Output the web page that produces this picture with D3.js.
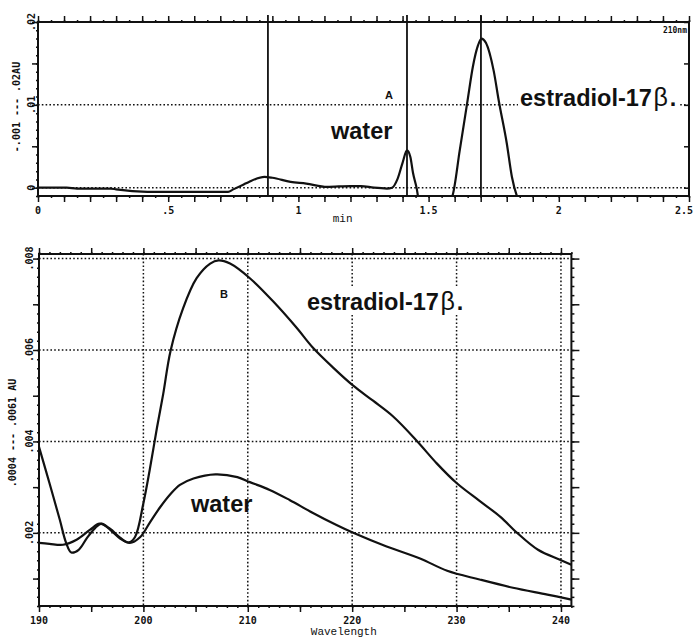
<!DOCTYPE html>
<html>
<head>
<meta charset="utf-8">
<script src="https://cdn.jsdelivr.net/npm/d3@7"></script>
<style>
  body { margin: 0; background: #fff; }
  svg { display: block; }
  .tick-label { font-family: 'DejaVu Sans Mono', monospace; font-weight: bold; font-size: 10px; fill: #111; }
  .axis-title { font-family: 'Liberation Mono', 'Courier New', monospace; font-size: 11px; fill: #111; }
  .big-label { font-family: 'Liberation Sans', Arial, sans-serif; font-weight: bold; font-size: 23.5px; fill: #111; }
  .small-label { font-family: 'Liberation Sans', Arial, sans-serif; font-weight: bold; font-size: 11px; fill: #111; }
</style>
</head>
<body>
<div class="canvas"></div>
<script>
// ---- panel A : chromatogram at 210 nm ----
const chromTime = [0, 0.11, 0.15, 0.28, 0.30, 0.42, 0.73, 0.75, 0.79, 0.81, 0.87, 0.90, 0.97, 1.03,
    1.11, 1.20, 1.24, 1.29, 1.34, 1.36, 1.38, 1.40, 1.417, 1.43, 1.44, 1.455, 1.46, 1.49, 1.56,
    1.59, 1.62, 1.65, 1.67, 1.69, 1.703, 1.72, 1.75, 1.77, 1.80, 1.82, 1.84, 1.87, 2.5];
const chromAbs = [0, 0, -0.0001, -0.0001, -0.0002, -0.0005, -0.0005, -0.0002, 0.0004, 0.0007,
    0.0013, 0.0012, 0.0007, 0.0005, 0.0001, 0.0002, 0.0002, 0, -0.0001, 0, 0.001, 0.003, 0.0045,
    0.0037, 0.0018, -0.0002, -0.0011, -0.002, -0.002, -0.0011, 0.0046, 0.0106, 0.0146, 0.0172,
    0.0180, 0.0175, 0.0141, 0.0104, 0.0054, 0.0013, -0.0011, -0.0027, -0.003];
const peakMarks = [0.883, 1.417, 1.701];
const timeTicks = [0, 0.5, 1, 1.5, 2, 2.5];
const timeTickLabels = ['0', '.5', '1', '1.5', '2', '2.5'];
const absTicks = [0, 0.01, 0.02];
const absTickLabels = ['0', '.01', '.02'];

// ---- panel B : UV spectra ----
const waveA = [190, 191, 192, 192.6, 193.1, 193.8, 194.6, 195.4, 196, 196.8, 197.8, 198.6, 199.2,
    200, 200.6, 201.3, 201.9, 202.6, 203.8, 205.1, 206.4, 207.2, 208.3, 210.2, 212.4, 214.7, 216.2,
    218.2, 220.1, 222, 223.9, 226.2, 228.1, 230, 232.2, 234.2, 235.8, 237.8, 239.9, 241];
const estradiolAbs = [0.00388, 0.00309, 0.00228, 0.00178, 0.00157, 0.00163, 0.00189, 0.00211,
    0.0022, 0.00207, 0.00187, 0.00179, 0.00191, 0.00265, 0.00337, 0.0043, 0.00504, 0.00598,
    0.00691, 0.00757, 0.00789, 0.00796, 0.00789, 0.00757, 0.00707, 0.00648, 0.00606, 0.00561,
    0.00522, 0.00489, 0.00455, 0.00401, 0.00352, 0.00309, 0.00270, 0.00235, 0.002, 0.00163,
    0.00141, 0.0013];
const waveW = [190, 191, 192.3, 193.6, 194.9, 195.8, 196.8, 197.8, 198.7, 199.7, 200.6, 201.6,
    202.6, 203.5, 204.8, 206.9, 209, 210.2, 212.1, 214, 216.2, 218.5, 220.1, 223.3, 226.5, 229.1,
    232.2, 235.4, 238.7, 241];
const waterAbs = [0.00178, 0.00176, 0.00174, 0.00185, 0.00207, 0.0022, 0.00209, 0.00189, 0.00178,
    0.00191, 0.00222, 0.00256, 0.00285, 0.00305, 0.00319, 0.00328, 0.00322, 0.00311, 0.00294,
    0.00272, 0.00244, 0.00217, 0.002, 0.0017, 0.00144, 0.00117, 0.00098, 0.0008, 0.00065, 0.00054];
const waveTicks = [190, 200, 210, 220, 230, 240];
const waveTickLabels = ['190', '200', '210', '220', '230', '240'];
const specTicks = [0.002, 0.004, 0.006, 0.008];
const specTickLabels = ['.002', '.004', '.006', '.008'];

const svg = d3.select('.canvas')
    .append('svg')
    .attr('width', 694)
    .attr('height', 637);

svg.append('rect').attr('width', 694).attr('height', 637).attr('fill', '#fff');

const ink = '#111';
const dotted = '1.6,2.2';

// draws tick marks with d3.axis, no labels
const tickMarks = (g, axis, values, size, width) => {
    g.call(axis.tickValues(values).tickSize(size).tickFormat(''));
    g.select('.domain').remove();
    g.selectAll('.tick line').attr('stroke', ink).attr('stroke-width', width);
};

const frame = (x0, x1, y0, y1) => {
    svg.append('rect')
        .attr('x', x0).attr('y', y0)
        .attr('width', x1 - x0).attr('height', y1 - y0)
        .attr('fill', 'none')
        .attr('stroke', ink)
        .attr('stroke-width', 2);
};

// ================= panel A =================
const xA = d3.scaleLinear().domain([0, 2.5]).range([38, 689]);
const yA = d3.scaleLinear().domain([-0.001, 0.02]).range([196, 22]);

// dotted grid
svg.append('g').selectAll('line')
    .data([0, 0.01])
    .enter().append('line')
    .attr('x1', xA(0)).attr('x2', xA(2.5))
    .attr('y1', d => yA(d)).attr('y2', d => yA(d))
    .attr('stroke', ink).attr('stroke-width', 1.5)
    .attr('stroke-dasharray', dotted);

// ticks
const minorT = d3.range(0, 2.501, 0.05);
const majorT = d3.range(0, 2.501, 0.1);
tickMarks(svg.append('g').attr('transform', `translate(0,${yA.range()[1]})`), d3.axisTop(xA), minorT, 2, 1.5);
tickMarks(svg.append('g').attr('transform', `translate(0,${yA.range()[1]})`), d3.axisTop(xA), majorT, 6, 1.5);
tickMarks(svg.append('g').attr('transform', `translate(0,${yA.range()[0]})`), d3.axisBottom(xA), minorT, 2, 1.5);
tickMarks(svg.append('g').attr('transform', `translate(0,${yA.range()[0]})`), d3.axisBottom(xA), majorT, 6, 1.5);
const minorA = d3.range(-0.001, 0.02001, 0.001);
const majorA = d3.range(0, 0.02001, 0.005);
tickMarks(svg.append('g').attr('transform', `translate(${xA(0)},0)`), d3.axisLeft(yA), minorA, 2, 1.5);
tickMarks(svg.append('g').attr('transform', `translate(${xA(0)},0)`), d3.axisLeft(yA), majorA, 6, 1.5);
tickMarks(svg.append('g').attr('transform', `translate(${xA(2.5)},0)`), d3.axisLeft(yA), majorA, 5, 1.5);

frame(xA(0), xA(2.5), yA(0.02), yA(-0.001));

// retention markers
svg.append('g').selectAll('line')
    .data(peakMarks)
    .enter().append('line')
    .attr('x1', d => xA(d)).attr('x2', d => xA(d))
    .attr('y1', yA(0.02) - 7).attr('y2', yA(-0.001))
    .attr('stroke', ink).attr('stroke-width', 1.8);

svg.append('clipPath').attr('id', 'clipA')
    .append('rect')
    .attr('x', xA(0)).attr('y', yA(0.02))
    .attr('width', xA(2.5) - xA(0)).attr('height', yA(-0.001) - yA(0.02));

const chromData = chromTime.map((t, i) => ({ t, v: chromAbs[i] }));
svg.append('path')
    .datum(chromData)
    .attr('clip-path', 'url(#clipA)')
    .attr('fill', 'none')
    .attr('stroke', ink)
    .attr('stroke-width', 2.2)
    .attr('d', d3.line().x(d => xA(d.t)).y(d => yA(d.v)).curve(d3.curveMonotoneX));

// tick labels
svg.append('g').selectAll('text')
    .data(timeTicks)
    .enter().append('text')
    .attr('class', 'tick-label')
    .attr('x', d => xA(d)).attr('y', 214)
    .attr('text-anchor', (d, i) => i === timeTicks.length - 1 ? 'end' : 'middle')
    .attr('dx', (d, i) => i === timeTicks.length - 1 ? 4 : 0)
    .text((d, i) => timeTickLabels[i]);

svg.append('g').selectAll('text')
    .data(absTicks)
    .enter().append('text')
    .attr('class', 'tick-label')
    .attr('transform', d => `translate(31,${yA(d)}) rotate(-90)`)
    .attr('text-anchor', 'middle')
    .attr('dy', '0.35em')
    .text((d, i) => absTickLabels[i]);

svg.append('text').attr('class', 'axis-title')
    .attr('x', xA(1.17)).attr('y', 222)
    .attr('text-anchor', 'middle').text('min');

svg.append('text').attr('class', 'tick-label')
    .attr('transform', `translate(16,107) rotate(-90)`)
    .attr('text-anchor', 'middle').attr('dy', '0.35em')
    .text('-.001 --- .02AU');

svg.append('text').attr('class', 'tick-label')
    .attr('x', 687).attr('y', 33)
    .attr('text-anchor', 'end').style('font-size', '8px')
    .text('210nm');

svg.append('text').attr('class', 'small-label')
    .attr('x', 389).attr('y', 99).attr('text-anchor', 'middle').text('A');

svg.append('text').attr('class', 'big-label')
    .attr('x', 331).attr('y', 139).text('water');

// label with white backing, covering the dotted grid
const bigLabel = (x, y) => {
    const g = svg.append('g');
    const t = g.append('text').attr('class', 'big-label').attr('x', x).attr('y', y);
    t.append('tspan').text('estradiol-17');
    t.append('tspan').attr('dx', 1.5).style('font-weight', 'normal').style('font-size', '25px').text('\u03b2');
    t.append('tspan').attr('dx', 2).text('.');
    const b = t.node().getBBox();
    g.insert('rect', 'text')
        .attr('x', b.x - 2).attr('y', b.y)
        .attr('width', b.width + 4).attr('height', b.height)
        .attr('fill', '#fff');
};
bigLabel(520, 106);

// ================= panel B =================
const xB = d3.scaleLinear().domain([190, 241]).range([39, 571.4]);
const yB = d3.scaleLinear().domain([0.0004, 0.0081]).range([606, 254]);

svg.append('g').selectAll('line')
    .data(specTicks)
    .enter().append('line')
    .attr('x1', xB(190)).attr('x2', xB(241))
    .attr('y1', d => yB(d)).attr('y2', d => yB(d))
    .attr('stroke', ink).attr('stroke-width', 1.5)
    .attr('stroke-dasharray', dotted);

svg.append('g').selectAll('line')
    .data(waveTicks.slice(1))
    .enter().append('line')
    .attr('x1', d => xB(d)).attr('x2', d => xB(d))
    .attr('y1', yB(0.0081)).attr('y2', yB(0.0004))
    .attr('stroke', ink).attr('stroke-width', 1.5)
    .attr('stroke-dasharray', dotted);

const minorW = d3.range(190, 241.01, 1);
const majorW = d3.range(190, 241.01, 5);
tickMarks(svg.append('g').attr('transform', `translate(0,${yB.range()[1]})`), d3.axisTop(xB), minorW, 2, 1.5);
tickMarks(svg.append('g').attr('transform', `translate(0,${yB.range()[1]})`), d3.axisTop(xB), majorW, 6, 1.5);
tickMarks(svg.append('g').attr('transform', `translate(0,${yB.range()[0]})`), d3.axisBottom(xB), minorW, 2, 1.5);
tickMarks(svg.append('g').attr('transform', `translate(0,${yB.range()[0]})`), d3.axisBottom(xB), majorW, 6, 1.5);
const minorS = d3.range(0.0004, 0.00811, 0.0002);
const majorS = d3.range(0.001, 0.00811, 0.001);
tickMarks(svg.append('g').attr('transform', `translate(${xB(190)},0)`), d3.axisLeft(yB), minorS, 2, 1.5);
tickMarks(svg.append('g').attr('transform', `translate(${xB(190)},0)`), d3.axisLeft(yB), majorS, 6, 1.5);
tickMarks(svg.append('g').attr('transform', `translate(${xB(241)},0)`), d3.axisRight(yB), minorS, 3, 1.5);
tickMarks(svg.append('g').attr('transform', `translate(${xB(241)},0)`), d3.axisRight(yB), majorS, 8, 1.5);

frame(xB(190), xB(241), yB(0.0081), yB(0.0004));

const lineB = d3.line().x(d => xB(d.w)).y(d => yB(d.v)).curve(d3.curveCatmullRom.alpha(0.5));
svg.append('path')
    .datum(waveA.map((w, i) => ({ w, v: estradiolAbs[i] })))
    .attr('fill', 'none').attr('stroke', ink).attr('stroke-width', 2.2)
    .attr('d', lineB);
svg.append('path')
    .datum(waveW.map((w, i) => ({ w, v: waterAbs[i] })))
    .attr('fill', 'none').attr('stroke', ink).attr('stroke-width', 2.2)
    .attr('d', lineB);

svg.append('g').selectAll('text')
    .data(waveTicks)
    .enter().append('text')
    .attr('class', 'tick-label')
    .attr('x', d => xB(d)).attr('y', 624)
    .attr('text-anchor', 'middle')
    .text((d, i) => waveTickLabels[i]);

svg.append('g').selectAll('text')
    .data(specTicks)
    .enter().append('text')
    .attr('class', 'tick-label')
    .attr('transform', d => `translate(29,${yB(d)}) rotate(-90)`)
    .attr('text-anchor', 'middle')
    .attr('dy', '0.35em')
    .text((d, i) => specTickLabels[i]);

svg.append('text').attr('class', 'tick-label')
    .attr('transform', `translate(12,433) rotate(-90)`)
    .attr('text-anchor', 'middle').attr('dy', '0.35em')
    .text('.0004 --- .0061 AU');

svg.append('text').attr('class', 'axis-title')
    .attr('x', xB(219.2)).attr('y', 635)
    .attr('text-anchor', 'middle').text('Wavelength');

svg.append('text').attr('class', 'small-label')
    .attr('x', 224).attr('y', 298).attr('text-anchor', 'middle').text('B');

svg.append('text').attr('class', 'big-label')
    .attr('x', 191).attr('y', 512).text('water');

bigLabel(307, 310);
</script>
</body>
</html>
